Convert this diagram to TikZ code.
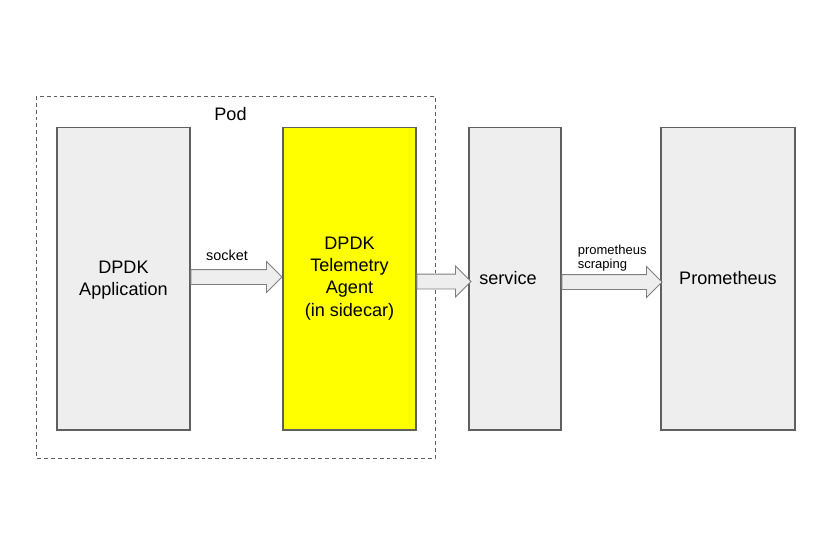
\documentclass[tikz,border=0pt]{standalone}
\usepackage{fontspec}
\setmainfont{Liberation Sans}
\usepackage{xcolor}
\usetikzlibrary{calc,shapes.arrows}

\definecolor{boxgray}{HTML}{EEEEEE}
\definecolor{boxline}{HTML}{5F5F5F}
\definecolor{arrowline}{HTML}{7F7F7F}
\definecolor{agentyellow}{HTML}{FFFF00}

\tikzset{
	box/.style={draw=boxline, line width=0.6pt, fill=boxgray, minimum height=6.06cm, align=center, inner sep=0pt, font=\fontsize{10.3}{12.6}\selectfont},
	fatarrow/.style={single arrow, draw=arrowline, fill=boxgray, line width=0.5pt, inner xsep=0pt, inner ysep=0.14cm, single arrow head extend=0.16cm, anchor=tail},
	bigtext/.style={font=\fontsize{10.3}{12.6}\selectfont, inner sep=0pt},
	smalltext/.style={font=\fontsize{8.2}{9.8}\selectfont, inner sep=0pt}
}

\begin{document}
\begin{tikzpicture}[x=0.02cm, y=-0.02cm]
			\useasboundingbox (0,0) rectangle (839,551);
			\draw [boxline, line width=0.5pt, dash pattern=on 2.2pt off 1.7pt] (36,96) rectangle (435,458);
			\node [bigtext] (pod) at (230.5,114) {Pod};
			\node [box, minimum width=2.66cm, label={[bigtext, align=center, yshift=-0.04cm]center:DPDK\\Application}] (app) at (123.5,278.5) {};
			\node [box, fill=agentyellow, minimum width=2.66cm] (agent) at (349.5,278.5) {DPDK\\Telemetry\\Agent\\(in sidecar)};
			\node [box, minimum width=1.84cm, label={[bigtext, xshift=-0.14cm]center:service}] (service) at (515,278.5) {};
			\node [box, minimum width=2.68cm] (prom) at (728,278.5) {Prometheus};
			\node [fatarrow, minimum height=1.82cm] (socketarrow) at (app.east |- 0,277) {};
			\node [fatarrow, minimum height=1.08cm] (servicearrow) at (agent.east |- 0,281.5) {};
			\node [fatarrow, minimum height=2.0cm] (scrapearrow) at (service.east |- 0,282) {};
			\node [smalltext, anchor=base] (socket) at (227,260.7) {socket};
			\node [smalltext, font=\fontsize{7.4}{6.4}\selectfont, align=left, anchor=west] (scraping) at (577.5,258.5) {prometheus\\scraping};
		\end{tikzpicture}
\end{document}
